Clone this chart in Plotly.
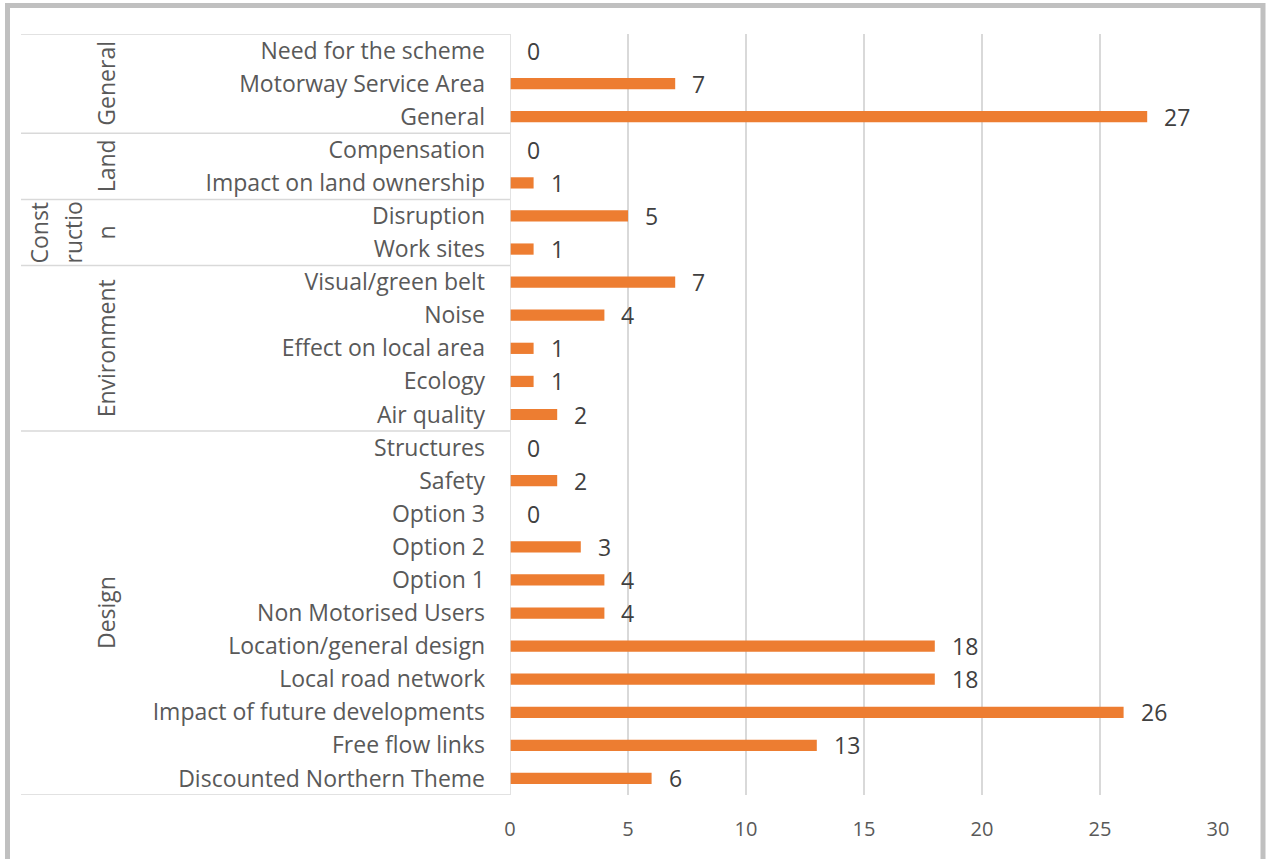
import plotly.graph_objects as go

# data, top to bottom as in the chart
groups = ["General", "Land", "Construction", "Environment", "Design"]
group_items = [
    ["Need for the scheme", "Motorway Service Area", "General"],
    ["Compensation", "Impact on land ownership"],
    ["Disruption", "Work sites"],
    ["Visual/green belt", "Noise", "Effect on local area", "Ecology", "Air quality"],
    ["Structures", "Safety", "Option 3", "Option 2", "Option 1", "Non Motorised Users",
     "Location/general design", "Local road network", "Impact of future developments",
     "Free flow links", "Discounted Northern Theme"],
]
group_values = [
    [0, 7, 27],
    [0, 1],
    [5, 1],
    [7, 4, 1, 1, 2],
    [0, 2, 0, 3, 4, 4, 18, 18, 26, 13, 6],
]
# the construction label is wrapped in the original
group_label_lines = {"Construction": ["Const", "ructio", "n"]}

x_ticks = [0, 5, 10, 15, 20, 25, 30]

categories = [c for g in group_items for c in g]
values = [v for g in group_values for v in g]

W, H = 1266, 859
L, R, T, B = 510, 48, 34, 64
pw = W - L - R
ph = H - T - B


def px_x(p):
    return (p - L) / pw


def px_y(p):
    return 1 - (p - T) / ph


GRID = "#d9d9d9"
TXT = "#595959"
FONT = "Open Sans"

fig = go.Figure()
fig.add_trace(go.Bar(
    x=values, y=categories, orientation="h",
    marker=dict(color="#ED7D31", line=dict(width=0)),
    hoverinfo="x+y",
))

annotations = []
# value labels
for c, v in zip(categories, values):
    annotations.append(dict(
        x=v, y=c, xref="x", yref="y", text=str(v), showarrow=False,
        xanchor="left", yanchor="middle", xshift=15,
        font=dict(family=FONT, size=23, color="#404040"),
    ))

shapes = []
# group dividers and group labels
start = 0
shapes.append(dict(type="line", xref="paper", yref="y", x0=px_x(21), x1=0,
                   y0=-0.5, y1=-0.5, line=dict(color=GRID, width=1.5)))
for g, items in zip(groups, group_items):
    n = len(items)
    end = start + n
    shapes.append(dict(type="line", xref="paper", yref="y", x0=px_x(21), x1=0,
                       y0=end - 0.5, y1=end - 0.5, line=dict(color=GRID, width=1.5)))
    mid = (start + end - 1) / 2
    lines = group_label_lines.get(g, [g])
    xs = [106] if len(lines) == 1 else [39, 73, 106]
    for xp, txt in zip(xs, lines):
        annotations.append(dict(
            x=px_x(xp), y=mid, xref="paper", yref="y", text=txt, showarrow=False,
            textangle=-90, xanchor="center", yanchor="middle",
            font=dict(family=FONT, size=23, color=TXT),
        ))
    start = end

# y axis line at zero
shapes.append(dict(type="line", xref="x", yref="paper", x0=0, x1=0, y0=0, y1=1,
                   line=dict(color=GRID, width=1.5)))
# outer chart border
shapes.append(dict(type="rect", xref="paper", yref="paper",
                   x0=px_x(7.5), x1=px_x(1263), y0=px_y(875), y1=px_y(5.5),
                   line=dict(color="#c0c0c0", width=5), fillcolor="rgba(0,0,0,0)"))

fig.update_layout(
    width=W, height=H,
    margin=dict(l=L, r=R, t=T, b=B),
    paper_bgcolor="white", plot_bgcolor="white",
    bargap=0.66,
    showlegend=False,
    annotations=annotations,
    shapes=shapes,
    font=dict(family=FONT, size=23, color=TXT),
)
fig.update_xaxes(
    range=[0, 30], tickvals=x_ticks, showgrid=True, gridcolor=GRID, gridwidth=1.5,
    zeroline=False, showline=False, ticks="", ticklabelstandoff=20,
    tickfont=dict(family=FONT, size=20, color=TXT),
)
fig.update_yaxes(
    categoryorder="array", categoryarray=categories,
    range=[len(categories) - 0.5, -0.5], showgrid=False, zeroline=False,
    showline=False, ticks="", ticklabelstandoff=24,
    tickfont=dict(family=FONT, size=23, color=TXT),
)

fig.write_html("out.html", config={"displayModeBar": False},
               post_script="document.body.style.margin = '0';")
